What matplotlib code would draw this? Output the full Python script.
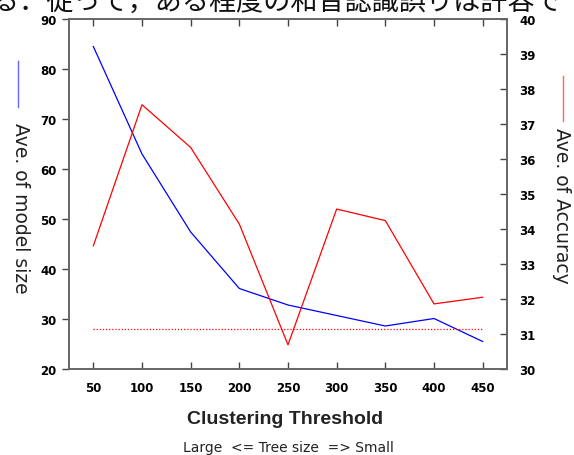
import matplotlib
matplotlib.use("Agg")
import matplotlib.pyplot as plt
from matplotlib.lines import Line2D

# data
threshold = [50, 100, 150, 200, 250, 300, 350, 400, 450]
model_size = [84.5, 63.0, 47.4, 36.1, 32.8, 30.7, 28.6, 30.1, 25.5]
accuracy = [33.52, 37.55, 36.33, 34.14, 30.69, 34.57, 34.24, 31.86, 32.05]
baseline_acc = 31.13

x_ticks = [50, 100, 150, 200, 250, 300, 350, 400, 450]
left_ticks = [20, 30, 40, 50, 60, 70, 80, 90]
right_ticks = [30, 31, 32, 33, 34, 35, 36, 37, 38, 39, 40]
top_text = "る．従って，ある程度の和音認識誤りは許容で"

fig = plt.figure(figsize=(5.74, 4.56), dpi=100)
ax = fig.add_axes([69 / 574, 86 / 456, 438 / 574, 350 / 456])
ax2 = ax.twinx()

ax.plot(threshold, model_size, color="#0000ff", lw=0.9)
ax2.plot(threshold, accuracy, color="#ff0000", lw=0.9)
ax2.plot([threshold[0], threshold[-1]], [baseline_acc, baseline_acc],
         color="#ff0000", lw=0.9, ls=(0, (1, 1.5)))

ax.set_xlim(25, 475)
ax.set_ylim(20, 90)
ax2.set_ylim(30, 40)
ax.set_xticks(x_ticks)
ax.set_yticks(left_ticks)
ax2.set_yticks(right_ticks)

for lab in ax.get_xticklabels() + ax.get_yticklabels() + ax2.get_yticklabels():
    lab.set_fontsize(8.5)
    lab.set_fontweight("bold")

ax.tick_params(axis="x", direction="in", top=True, length=5, width=1,
               color="#444444", pad=9)
ax.tick_params(axis="y", direction="out", length=5, width=1,
               color="#444444", pad=4)
ax2.tick_params(axis="y", direction="in", length=5, width=1,
                color="#444444", pad=9)

for a in (ax, ax2):
    for s in a.spines.values():
        s.set_color("#666666")
        s.set_linewidth(1.2)

# axis titles
fig.text(20 / 574, 1 - 208 / 456, "Ave. of model size", rotation=270,
         ha="center", va="center", fontsize=13.5, color="#222222")
fig.text(562 / 574, 1 - 206 / 456, "Ave. of Accuracy", rotation=270,
         ha="center", va="center", fontsize=13.5, color="#222222")
fig.add_artist(Line2D([18 / 574, 18 / 574], [1 - 62 / 456, 1 - 108 / 456],
                      color="#6666ff", lw=1))
fig.add_artist(Line2D([563 / 574, 563 / 574], [1 - 77 / 456, 1 - 122 / 456],
                      color="#ff6666", lw=1))

fig.text(285 / 574, 1 - 420 / 456, "Clustering Threshold", ha="center",
         va="center", fontsize=14, fontweight="bold",
         family=["Liberation Sans", "DejaVu Sans"], color="#222222")
fig.text(288 / 574, 1 - 448 / 456, "Large  <= Tree size  => Small",
         ha="center", va="center", fontsize=10,
         family=["Liberation Sans Narrow", "DejaVu Sans"], color="#222222")

# cut-off line of document text above the chart
fig.text(-8 / 574, 1 - 10 / 456, top_text, ha="left", va="baseline",
         fontsize=19.5, family=["Noto Sans CJK JP", "DejaVu Sans"],
         color="#111111")

fig.savefig("out.png", dpi=100)
